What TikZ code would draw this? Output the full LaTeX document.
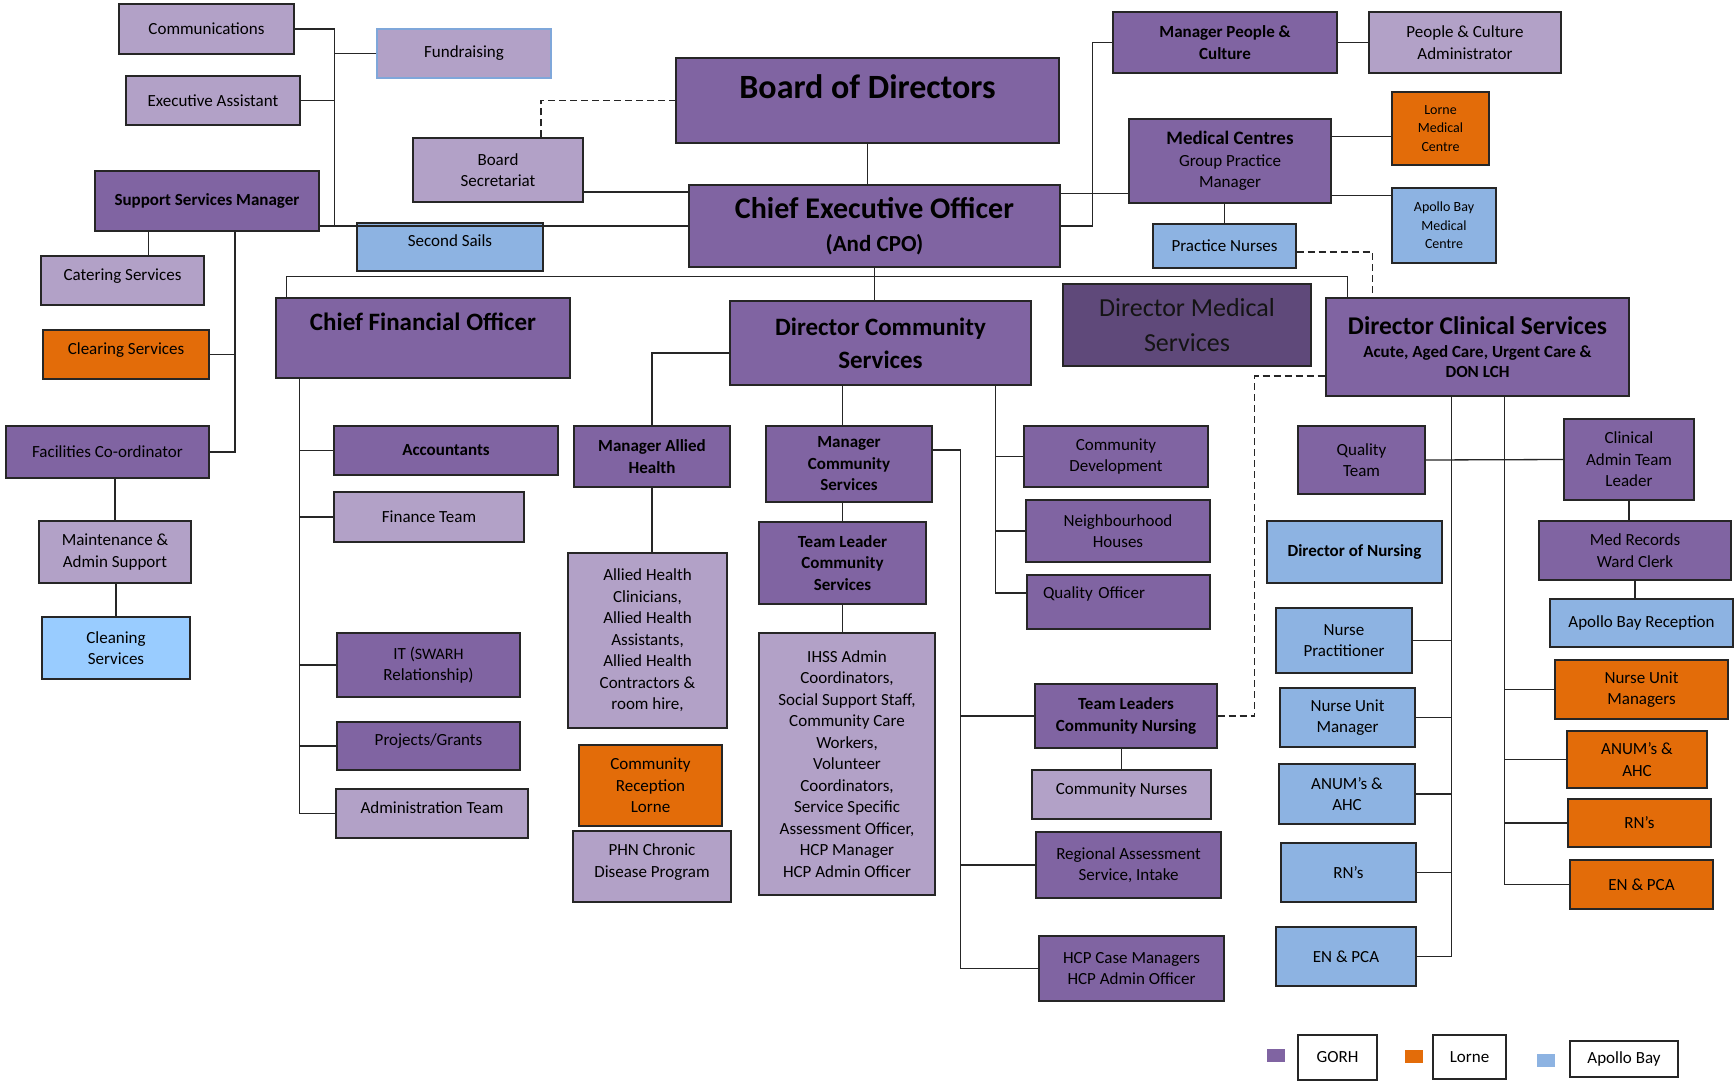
\documentclass[tikz,border=0pt]{standalone}
\usepackage{fontspec}
\setmainfont{Carlito}
\definecolor{gorhpurple}{HTML}{8064A2}
\definecolor{lilac}{HTML}{B2A1C7}
\definecolor{plum}{HTML}{5F497A}
\definecolor{baybl}{HTML}{8DB3E2}
\definecolor{skybl}{HTML}{99CCFF}
\definecolor{lorneor}{HTML}{E36C09}
\definecolor{fundblue}{HTML}{7FA7DA}
\definecolor{edge}{HTML}{262626}
\newcommand{\fsz}[2]{\fontsize{#1}{#2}\selectfont}

\begin{document}
\begin{tikzpicture}[x=1pt, y=-1pt,
    orgbox/.style={draw=edge, line width=1.3pt, align=center, inner sep=1pt, text=black, font=\fsz{17}{21.5}},
    sz/.style 2 args={minimum width=#1pt, minimum height=#2pt},
    gbox/.style={orgbox, fill=gorhpurple},
    lbox/.style={orgbox, fill=lilac},
    bbox/.style={orgbox, fill=baybl},
    obox/.style={orgbox, fill=lorneor},
    heavy/.style={font=\fsz{17}{21.5}\bfseries},
    uptext/.style={text height=13pt, text depth=14pt},
    keysq/.style={minimum width=18pt, minimum height=13pt, inner sep=0pt},
    wire/.style={draw=edge, line width=1.3pt},
    dashwire/.style={wire, dash pattern=on 7pt off 4pt}]
  \useasboundingbox[fill=white] (0,0) rectangle (1734,1081);
  % office of the CEO
  \node[lbox, sz={175}{50}] (comms) at (206.5,29) {Communications};
  \node[lbox, sz={174}{49}, draw=fundblue] (fund) at (464,53.5) {Fundraising};
  \node[lbox, sz={174}{49}] (exec) at (213,100.5) {Executive Assistant};
  \node[lbox, sz={170}{64}] (bsec) at (498,170) {Board\\Secretariat};
  \node[gbox, sz={224}{60}, heavy] (ssm) at (207,201) {Support Services Manager};
  \node[bbox, sz={186}{48}, uptext] (sails) at (450,247) {Second Sails};
  % support services
  \node[lbox, sz={163}{49}, uptext] (cater) at (122.5,280.5) {Catering Services};
  \node[obox, sz={166}{49}, uptext] (clear) at (126,354.5) {Clearing Services};
  \node[gbox, sz={203}{52}] (fac) at (107.5,452) {Facilities Co-ordinator};
  \node[lbox, sz={152}{62}] (maint) at (115,552) {Maintenance \&\\Admin Support};
  \node[orgbox, fill=skybl, sz={148}{62}] (clean) at (116,648) {Cleaning\\Services};
  % board and CEO
  \node[gbox, sz={383}{85}, font=\fsz{34}{40}\bfseries, text height=24pt, text depth=27pt] (board) at (867.5,100.5) {Board of Directors};
  \node[gbox, sz={371}{82}, font=\fsz{30}{35}\bfseries] (ceo) at (874.5,226) {Chief Executive Officer\\[-2pt]{\fsz{23}{28}(And CPO)}};
  \node[gbox, sz={224}{61}, heavy] (mpc) at (1225,42.5) {Manager People \&\\Culture};
  \node[lbox, sz={192}{61}] (pca) at (1465,42.5) {People \& Culture\\Administrator};
  \node[gbox, sz={202}{84}] (medc) at (1230,161) {{\fsz{19}{22}\bfseries Medical Centres}\\Group Practice\\Manager};
  \node[obox, sz={97}{73}, font=\fsz{14}{18.5}] (lmc) at (1440.5,128.5) {Lorne\\Medical\\Centre};
  \node[bbox, sz={104}{75}, font=\fsz{14}{18.5}] (amc) at (1444,225.5) {Apollo Bay\\Medical\\Centre};
  \node[bbox, sz={143}{44}] (pnurse) at (1224.5,246) {Practice Nurses};
  % directors
  \node[gbox, sz={294}{80}, font=\fsz{25}{30}\bfseries, text height=18pt, text depth=34pt] (cfo) at (423,338) {Chief Financial Officer};
  \node[gbox, sz={301}{84}, font=\fsz{25}{33}\bfseries] (dcomm) at (880.5,343) {Director Community\\Services};
  \node[orgbox, fill=plum, sz={248}{82}, font=\fsz{26}{35}, text=black!92] (dms) at (1187,325) {Director Medical\\Services};
  \node[gbox, sz={303}{98}, font=\fsz{17}{20}\bfseries] (dcs) at (1477.5,347) {{\fsz{25.5}{26}Director Clinical Services}\\[3pt]Acute, Aged Care, Urgent Care \&\\DON LCH};
  % finance
  \node[gbox, sz={224}{49}, heavy] (acct) at (446,450.5) {Accountants};
  \node[lbox, sz={190}{50}] (fin) at (429,517) {Finance Team};
  \node[gbox, sz={183}{64}] (it) at (428.5,665) {IT ({\fsz{16}{18}SWARH}\\Relationship)};
  \node[gbox, sz={183}{48}, uptext] (proj) at (428.5,746) {Projects/Grants};
  \node[lbox, sz={192}{49}, uptext] (admin) at (432,813.5) {Administration Team};
  % community services
  \node[gbox, sz={156}{61}, heavy] (mah) at (652,456.5) {Manager Allied\\Health};
  \node[lbox, sz={159}{175}] (allied) at (647.5,640.5) {Allied Health\\Clinicians,\\Allied Health\\Assistants,\\Allied Health\\Contractors \&\\room hire,};
  \node[obox, sz={143}{81}] (crl) at (650.5,785.5) {Community\\Reception\\Lorne};
  \node[lbox, sz={158}{71}, text height=34pt, text depth=13pt] (phn) at (652,866.5) {PHN Chronic\\Disease Program};
  \node[gbox, sz={166}{76}, heavy] (mcs) at (849,464) {Manager\\Community\\Services};
  \node[gbox, sz={167}{82}, heavy] (tlcs) at (842.5,563) {Team Leader\\Community\\Services};
  \node[lbox, sz={176}{262}] (ihss) at (847,764) {IHSS Admin\\Coordinators,\\Social Support Staff,\\Community Care\\Workers,\\Volunteer\\Coordinators,\\Service Specific\\Assessment Officer,\\HCP Manager\\HCP Admin Officer};
  \node[gbox, sz={184}{61}] (cdev) at (1116,456.5) {Community\\Development};
  \node[gbox, sz={184}{62}] (nhouse) at (1118,531) {Neighbourhood\\Houses};
  \node[gbox, sz={183}{54}, align=left, text width=151pt, text height=12pt, text depth=19pt] (qoff) at (1118.5,602) {Quality Officer};
  \node[gbox, sz={182}{64}, heavy] (tlcn) at (1126,716) {Team Leaders\\Community Nursing};
  \node[lbox, sz={179}{49}, uptext] (cnurse) at (1121.5,794.5) {Community Nurses};
  \node[gbox, sz={185}{66}] (ras) at (1128.5,865) {Regional Assessment\\Service, Intake};
  \node[gbox, sz={185}{65}] (hcp) at (1131.5,968.5) {HCP Case Managers\\HCP Admin Officer};
  % clinical services
  \node[gbox, sz={127}{68}] (qteam) at (1361.5,460) {Quality\\Team};
  \node[gbox, sz={130}{81}] (catl) at (1629,459.5) {Clinical\\Admin Team\\Leader};
  \node[gbox, sz={192}{59}] (mrwc) at (1635,550.5) {Med Records\\Ward Clerk};
  \node[bbox, sz={183}{48}] (abr) at (1641.5,623) {Apollo Bay Reception};
  \node[bbox, sz={175}{62}, heavy] (don) at (1354.5,552) {Director of Nursing};
  \node[bbox, sz={136}{65}] (np) at (1344,640.5) {Nurse\\Practitioner};
  \node[bbox, sz={135}{59}] (num) at (1347.5,717.5) {Nurse Unit\\Manager};
  \node[bbox, sz={136}{60}] (anumb) at (1347,794) {ANUM’s \&\\AHC};
  \node[bbox, sz={135}{59}] (rnb) at (1348.5,872.5) {RN’s};
  \node[bbox, sz={140}{59}] (enb) at (1346,956.5) {EN \& PCA};
  \node[obox, sz={173}{59}] (numo) at (1641.5,689.5) {Nurse Unit\\Managers};
  \node[obox, sz={140}{57}] (anumo) at (1637,759.5) {ANUM’s \&\\AHC};
  \node[obox, sz={143}{48}] (rno) at (1639.5,823) {RN’s};
  \node[obox, sz={143}{49}] (eno) at (1641.5,884.5) {EN \& PCA};
  % legend
  \node[keysq, fill=gorhpurple] (kgorh) at (1276,1055.5) {};
  \node[orgbox, fill=white, sz={79}{45}] (tgorh) at (1337.5,1057.5) {GORH};
  \node[keysq, fill=lorneor] (klorne) at (1414,1056.5) {};
  \node[orgbox, fill=white, sz={73}{44}] (tlorne) at (1469.5,1057) {Lorne};
  \node[keysq, fill=baybl] (kbay) at (1546,1060) {};
  \node[orgbox, fill=white, sz={108}{36}] (tbay) at (1624,1059) {Apollo Bay};

  % lines around the CEO
  \coordinate (lbus) at ([xshift=15]ssm.east |- ceo.west);
  \draw[wire] (comms.east) -| (lbus);
  \draw[wire] (exec.east) -- (exec.east -| lbus);
  \draw[wire] (fund.west) -- (fund.west -| lbus);
  \draw[wire] (ssm.east |- ceo.west) -- (ceo.west);
  \draw[wire] ([yshift=-22]bsec.east) -- ([yshift=-22]bsec.east -| ceo.west);
  \draw[dashwire] ([xshift=43]bsec.north) |- (board.west);
  \draw[wire] (board.south) -- (board.south |- ceo.north);
  \draw[wire] ([yshift=-9]ceo.north east) -- ([yshift=-9]ceo.north east -| medc.west);
  \draw[wire] (ceo.east) -| ([xshift=-20]mpc.west) -- (mpc.west);
  \draw[wire] (mpc.east) -- (pca.west);
  \draw[wire] ([yshift=-8]lmc.west) -- ([yshift=-8]lmc.west -| medc.east);
  \draw[wire] ([yshift=30]amc.west) -- ([yshift=30]amc.west -| medc.east);
  \draw[wire] (pnurse.north) -- (pnurse.north |- medc.south);
  \draw[dashwire] ([yshift=-6]pnurse.east) -| ([xshift=47]dcs.north west);
  % directors bus
  \draw[wire] (ceo.south) -- (ceo.south |- dcomm.north);
  \draw[wire] ([xshift=11]cfo.north west) -- ++(0,-21) -| ([xshift=22]dcs.north west);
  % support services
  \draw[wire] ([xshift=26]cater.north) -- ([xshift=26]cater.north |- ssm.south);
  \coordinate (sbus) at ([xshift=28]ssm.south);
  \draw[wire] (sbus) |- (fac.east);
  \draw[wire] (clear.east) -- (clear.east -| sbus);
  \draw[wire] (maint.north) -- (maint.north |- fac.south);
  \draw[wire] (clean.north) -- (clean.north |- maint.south);
  % finance
  \coordinate (fbus) at ([xshift=24]cfo.south west);
  \draw[wire] (fbus) |- (admin.west);
  \foreach \n in {acct,fin,it,proj}
    \draw[wire] (\n.west) -- (\n.west -| fbus);
  % community services
  \draw[wire] ([yshift=-10]dcomm.west) -| (mah.north);
  \draw[wire] (mah.south) -- (mah.south |- allied.north);
  \draw[wire] (tlcs.north |- dcomm.south) -- (tlcs.north |- mcs.north);
  \draw[wire] (tlcs.north) -- (tlcs.north |- mcs.south);
  \draw[wire] (tlcs.south) -- (tlcs.south |- ihss.north);
  \coordinate (cbus) at ([xshift=28,yshift=14]mcs.east);
  \draw[wire] ([yshift=14]mcs.east) -- (cbus) |- (hcp.west);
  \foreach \n in {tlcn,ras}
    \draw[wire] (\n.west) -- (\n.west -| cbus);
  \coordinate (rbus) at ([xshift=-36]dcomm.south east);
  \draw[wire] (rbus) |- ([yshift=9]qoff.west);
  \foreach \n in {cdev,nhouse}
    \draw[wire] (\n.west) -- (\n.west -| rbus);
  \draw[wire] (cnurse.north) -- (cnurse.north |- tlcn.south);
  \draw[dashwire] (tlcn.east) -| ([xshift=-71,yshift=-29]dcs.west) -- ([yshift=-29]dcs.west);
  % clinical services
  \coordinate (dbl) at ([xshift=126]dcs.south west);
  \coordinate (dbr) at ([xshift=179]dcs.south west);
  \draw[wire] (dbl) |- (enb.east);
  \foreach \n in {np,num,anumb,rnb}
    \draw[wire] (\n.east) -- (\n.east -| dbl);
  \draw[wire] (dbr) |- (eno.west);
  \foreach \n in {numo,anumo,rno}
    \draw[wire] (\n.west) -- (\n.west -| dbr);
  \draw[wire] (qteam.east) -- (catl.west);
  \draw[wire] (catl.south) -- (catl.south |- mrwc.north);
  \draw[wire] (mrwc.south) -- (mrwc.south |- abr.north);
\end{tikzpicture}
\end{document}
